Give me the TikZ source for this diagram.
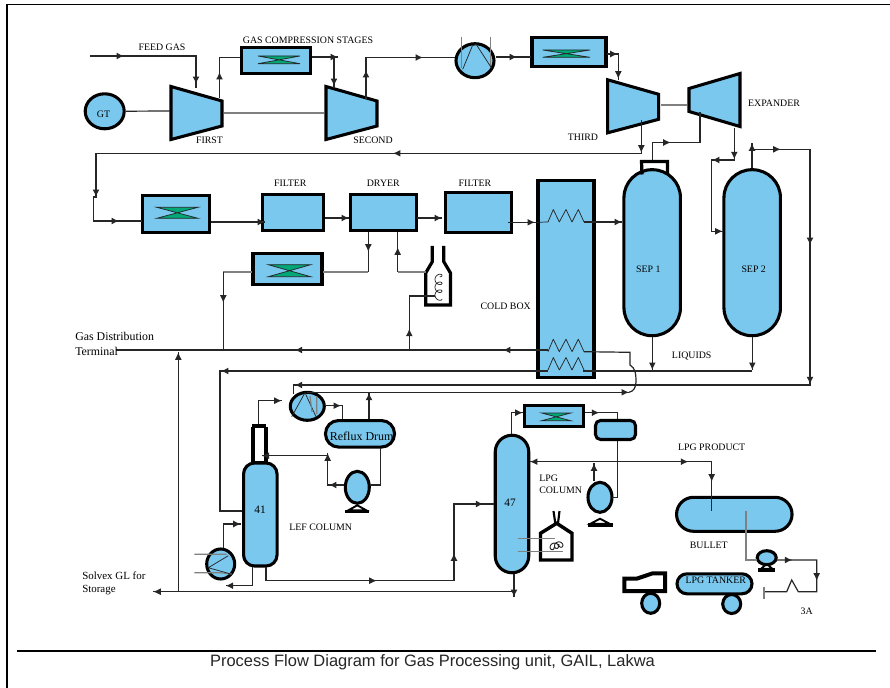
\documentclass[tikz,border=0pt]{standalone}
\usepackage{fontspec}
\setmainfont{Liberation Serif}
\newfontfamily\titlefont{Liberation Sans}
\usetikzlibrary{arrows.meta,decorations.markings,shapes.geometric}
\definecolor{vesselblue}{HTML}{7AC8EE}
\definecolor{coolgreen}{HTML}{00A878}
\tikzset{
	eq/.style={draw=black,line width=2.3pt,fill=vesselblue,inner sep=0pt},
	sz/.style 2 args={minimum width=#1*0.75pt,minimum height=#2*0.75pt},
	capsule/.style={rounded corners=#1*0.75pt},
	pipe/.style={draw=black!85,line width=0.9pt},
	pale/.style={draw=black!50,line width=0.9pt},
	fine/.style={draw=black!85,line width=0.55pt},
	heavy/.style={draw=black,line width=2.4pt},
	flowtip/.style={postaction={decorate,decoration={markings,mark=at position #1*0.75pt with {\arrow{Latex[length=5.6pt,width=5.2pt]}}}}},
	tag/.style={font=\fontsize{7.4}{9}\selectfont,text=black,inner sep=0pt},
	bigtag/.style={font=\fontsize{8.6}{10}\selectfont,text=black,inner sep=0pt,anchor=west},
}
\newcommand{\coolx}[4]{%
	\fill[coolgreen] (#1,#3)--(#2,#3)--(#1,#4)--(#2,#4)--cycle;
	\draw[fine] (#1,#3)--(#2,#3)--(#1,#4)--(#2,#4)--cycle;}
\newcommand{\coilx}[1]{%
	\draw[fine,line join=round] (548,#1)--(553.3,#1-12.5)--(559.3,#1)--(566,#1-12.5)--(572,#1)--(578.3,#1-12.5)--(584,#1);}
\begin{document}
\begin{tikzpicture}[x=0.75pt,y=-0.75pt,line join=miter]
	\useasboundingbox (0,0) rectangle (890,688);
	\draw[line width=0.8pt] (7,688)--(7,4.5)--(890,4.5);
	\draw[line width=0.8pt] (17,651)--(876,651);
	\node[inner sep=0pt,font=\titlefont\fontsize{12.35}{14}\selectfont,text=black!85] (title) at (432.5,662) {Process Flow Diagram for Gas Processing unit, GAIL, Lakwa};
	% equipment
	\foreach \n/\x/\y/\w/\h in {coola/276/60.5/69.5/26.5,coolb/569/52.3/74/29,coolc/176.2/213.7/66.5/36.8,coold/287.5/269.2/69/31,coole/554.2/415.8/59/20.5,filtera/293.3/212.5/61/36,dryer/383.3/212.6/65.5/36,filterb/478.2/212.3/66/39.5,coldbox/566/279.2/56/197}
		\node[eq,sz={\w}{\h}] (\n) at (\x,\y) {};
	\foreach \x/\y in {170/85,325/85,606.7/78.3}
		\draw[eq,shift={(\x,\y)}] (1,1.5)--(52,16)--(52,41)--(1,54.5)--cycle;
	\draw[eq] (689,88.5)--(740,73.5)--(740,126.5)--(689,111.5)--cycle;
	\foreach \n/\x/\y/\w/\h in {gt/104.7/111.3/39/35,conda/475/60.7/38/34,condb/307.3/406.3/34/28,reb/220.7/564/28/30,wheela/650.7/603.3/18/20,wheelb/731.7/604/18/19}
		\node[eq,ellipse,sz={\w}{\h}] (\n) at (\x,\y) {};
	\foreach \n/\x/\y/\w/\h/\r in {sepa/652.2/252.7/56.5/166/28,sepb/752.2/252.7/56.5/166/28,cola/260.3/514.5/33.5/103/11,colb/512/504/33.5/137.5/16.7,drum/360/433.8/69/26.5/13,bullet/734.3/514.3/115.5/34/17,tanker/714.5/583.8/75/20/10}
		\node[eq,capsule=\r,sz={\w}{\h}] (\n) at (\x,\y) {};
	\foreach \x/\y/\w in {357.3/513.3/12,600/526.7/12.5,766.7/571.7/8.5}{
		\fill[black] (\x-\w,\y)--(\x+\w,\y)--(\x+\w,\y-3.5)--(\x-\w,\y-3.5)--cycle;
		\draw[heavy,line width=1.4pt,fill=white] (\x,\y-8)--(\x-\w+3,\y-3)--(\x+\w-3,\y-3)--cycle;}
	\node[eq,ellipse,sz={24}{32}] (pumpa) at (357.3,487.3) {};
	\node[eq,ellipse,sz={24}{30}] (pumpb) at (600,497.3) {};
	\node[eq,ellipse,sz={19}{14}] (pumpc) at (766.7,557.7) {};
	\coolx{258}{300}{56}{63.7}
	\coolx{542.7}{590}{50}{57.3}
	\coolx{156.7}{198}{207.3}{218.3}
	\coolx{268.3}{310.7}{264.7}{276.7}
	\coolx{541.7}{570.7}{413}{420.7}
	% column stack, heater, furnace, tanker cab
	\fill[black] (251,426.7) rectangle (268.3,461.7);
	\fill[white] (255,426.7) rectangle (264.3,461);
	\fill[black] (252.3,424) rectangle (266,427.5);
	\draw[heavy,fill=white] (432.3,246)--(432.3,261.7)--(425.7,273)--(425.7,305)--(450.5,305)--(450.5,273)--(443.8,261.7)--(443.8,246);
	\draw[fine] plot[domain=0:1150,samples=70,smooth,variable=\t] ({438.5+3.5*cos(\t)},{299-\t/46+3*sin(\t)});
	\draw[heavy,line width=2.6pt,fill=white] (540.5,560)--(540.5,533.3)--(556.7,523.3)--(572,533.3)--(572,560)--cycle;
	\draw[heavy,line width=1.6pt] (553.5,511)--(555.3,523.3) (559.5,511)--(558,523.3);
	\draw[pale] (517.7,538.3)--(555,538.3) (517.7,551.7)--(563,551.7);
	\draw[fine,line width=0.7pt] plot[domain=0:900,samples=60,smooth,variable=\t] ({551+\t/82+3*cos(\t)},{547-\t/300+3*sin(\t)});
	\draw[heavy,line width=3pt] (624.3,578.7)--(636.7,578.7)--(652.7,573.3)--(665,573.3)--(665,591)--(624.3,591)--cycle;
	% ports
	\foreach \n/\x/\y in {feedin/90/56,firstin/196/88,firstout/219.5/98,coolaw/240/57.5,coolae/312/57,coolan/338/57,coolaj/334/57,secondin/334/88,secondout/366/99,condaw/455/57.5,condae/496/57,coolbw/530.7/57,coolbe/607/54,thirdin/618.3/80,thirdout/641.3/120,coolcw/141.7/221,coolce/211/222,filteraw/265/222,filterae/325/218,dryerw/349/218,dryere/417.3/218,filterbw/442/218,filterbe/508/222.3,coldw/536/222.3,coilae/584/222,sepaw/622/222,sepanoz/652.3/161,expin/700/112,expout/734.3/128,sepbw/722.7/231.3,sepbtop/752/168,sepbup/752/143.3,sepbj/752/149.3,condbin/293.3/394,sepabot/652.3/337,sepaliq/652.3/370,sepbbot/752.3/337,sepbliq/752.3/370,liqa/548/371,colaw/241.7/511,gasj/548/350,gasout/116/350,coilbe/584/351.7,retn/629/392.3,condbout/307/392.3,cooldw/251.7/272,gasa/223.3/350,dryers/368.3/232,coolde/323.3/272,heatw/425.7/272,dryerh/397.7/232,gasb/409.3/350,heatin/435/296,storej/178.3/592,gasc/178.3/352,colbj/514/591.7,storeout/153.3/591.7,colbbot/514/574,colbdown/514/597,colatop/258.3/424,condbw/281.7/400.7,condbe/326/405.7,drumin/342.7/419,drumtop/369/419,retup/369/392.7,drumbot/380.7/448,pumpain/370/485,pumpaout/344.3/485,refa/327.7/453.3,refb/327.7/455.7,refc/261.7/455.7,rebtop/223.3/548.3,colain/241/524,colab/252.7/567,rebin/225.7/585.7,colac/266/567,colbw/493.5/504,colbtop/511.7/434,coolew/523/412.7,coolee/585/412.7,pumpbin/612.3/497.3,pumpbtop/594/481,lpgj/594/461.7,colbe/530/461.7,lpgup/594/463.3,bullin/711.7/510.7,bullout/746/510.7,pumpcin/756.7/560,pumpcout/776.7/560,endl/764/591.7}
		\coordinate (\n) at (\x,\y);
	% lines
	\draw[pipe,flowtip=34,flowtip=134] (feedin)--(196,56)--(firstin);
	\draw[pipe,flowtip=26,flowtip=70.5] (firstout)--(219.5,57.5)--(coolaw);
	\draw[pipe,flowtip=26] (coolae)--(coolan);
	\draw[pipe,flowtip=29] (coolaj)--(secondin);
	\draw[pipe,flowtip=29,flowtip=98.5] (secondout)--(366,57.5)--(condaw);
	\draw[pipe,flowtip=21] (condae)--(coolbw);
	\draw[pipe,flowtip=10.7,flowtip=36] (coolbe)--(618.3,54)--(thirdin);
	\draw[pipe] (gt)--(170,111);
	\draw[pale,line width=1.1pt] (224,113)--(324,113);
	\draw[pale,line width=1.1pt] (661,105)--(687,105);
	\draw[pipe,flowtip=32.7,flowtip=281.6,flowtip=622.3,flowtip=674.3] (thirdout)--(641.3,153.3)--(96,153.3)--(96,197)--(93.5,197)--(93.5,221)--(coolcw);
	\draw[pipe,flowtip=54] (coolce)--(filteraw);
	\draw[pipe,flowtip=24] (filterae)--(dryerw);
	\draw[pipe,flowtip=24.7] (dryere)--(filterbw);
	\draw[pipe,flowtip=27] (filterbe)--(coldw);
	\coilx{222}
	\draw[fine] (coldw)--(548,222);
	\draw[pipe,flowtip=38] (coilae)--(sepaw);
	\draw[pipe,flowtip=36.9] (sepanoz)--(652.3,142.5)--(700,142.5)--(expin);
	\draw[pipe,flowtip=31.3,flowtip=54.3,flowtip=137.7] (expout)--(734.3,160)--(711.3,160)--(711.3,231.3)--(sepbw);
	\draw[pipe,flowtip=24.7] (sepbtop)--(sepbup);
	\draw[pipe,flowtip=28.7,flowtip=153.7,flowtip=293,flowtip=809] (sepbj)--(810,149.3)--(810,385)--(293.3,385)--(condbin);
	\draw[pipe,flowtip=33] (sepabot)--(sepaliq);
	\draw[pipe,flowtip=33] (sepbbot)--(sepbliq);
	\draw[pipe] (752.3,371)--(584,371)--(584,370);
	\coilx{370}
	\draw[pipe,flowtip=327,flowtip=490] (liqa)--(220,371)--(220,511)--(colaw);
	\coilx{351.7}
	\draw[pipe,flowtip=45,flowtip=253.3,flowtip=432.3] (gasj)--(gasout);
	\draw[pipe] (coilbe)--(630,352.3)--(630,365) .. controls (635,368) and (636,373) .. (636,380) .. controls (636,388) and (634,391) .. (retn);
	\draw[pipe,flowtip=322] (condbout)--(retn);
	\draw[pale] (cooldw)--(223.3,272);
	\draw[pipe,flowtip=30.7] (223.3,272)--(gasa);
	\draw[pale] (coolde)--(368.3,272);
	\draw[pipe,flowtip=19.7] (dryers)--(368.3,272);
	\draw[pale] (heatw)--(397.7,272);
	\draw[pipe,flowtip=24.7] (397.7,272)--(dryerh);
	\draw[pipe,flowtip=21.3] (gasb)--(409.3,296)--(heatin);
	\draw[pipe,flowtip=239.7] (storej)--(gasc);
	\draw[pipe,flowtip=360.7] (colbj)--(storeout);
	\draw[pipe,flowtip=23] (colbbot)--(colbdown);
	\draw[pipe,flowtip=46.7] (colatop)--(258.3,400.7)--(condbw);
	\draw[pipe,flowtip=15] (condbe)--(342.7,405.7)--(drumin);
	\draw[pipe,flowtip=26.3] (drumtop)--(retup);
	\draw[pipe] (drumbot)--(380.7,485)--(pumpain);
	\draw[pipe,flowtip=15.3,flowtip=48.3] (pumpaout)--(327.7,485)--(refa);
	\draw[pipe,flowtip=66] (refb)--(refc);
	\draw[pipe,flowtip=41.7] (rebtop)--(223.3,524)--(colain);
	\draw[pipe,flowtip=45.7] (colab)--(252.7,585.7)--(rebin);
	\draw[pipe,flowtip=124.4,flowtip=229.1,flowtip=307.7] (colac)--(266,580.7)--(454,580.7)--(454,504)--(colbw);
	\draw[pipe,flowtip=32.3] (colbtop)--(511.7,412.7)--(coolew);
	\draw[pipe,flowtip=14.3] (coolee)--(617.3,412.7)--(617.3,497.3)--(pumpbin);
	\draw[pipe,flowtip=17.7] (pumpbtop)--(lpgup);
	\draw[pipe,flowtip=64] (lpgj)--(colbe);
	\draw[pipe,flowtip=94.3,flowtip=137.7] (lpgj)--(711.7,461.7)--(bullin);
	\draw[pale] (bullout)--(746,560)--(pumpcin);
	\draw[pipe,flowtip=15.6,flowtip=60.7] (pumpcout)--(816.7,560)--(816.7,591.7)--(798.3,591.7)--(791.7,580)--(786.7,591.7)--(endl);
	\draw[pale] (764,586.7)--(764,599.3);
	% equipment drawn over the lines
	\node[eq,capsule=5,sz={40}{19}] (accum) at (615.5,430) {};
	\draw[heavy] (642,174.5)--(641.5,161.5)--(667.5,161.5)--(667.5,174.5);
	% inside of the exchangers
	\draw[pale] (461.7,36.7)--(461.7,68.3) (490.7,36.7)--(490.7,66.7);
	\draw[fine] (462.7,69.3)--(472.3,46)--(476,44)--(491.7,68.3);
	\draw[fine] (291.7,416.7)--(305,392.7)--(316,416.7);
	\draw[pale] (316.7,396)--(316.7,414) (310,396)--(312,412);
	\draw[pale] (194.3,554.3)--(226.7,554.3) (194.3,572.7)--(220,572.7)--(231.7,574);
	\draw[fine] (228.3,555.7)--(208.3,567.7)--(230.7,574);
	% labels
	\foreach \n/\x/\y/\t in {lfeed/162/47/FEED GAS,lstages/308/40/GAS COMPRESSION STAGES,lfirst/209.5/140/FIRST,lsecond/373/140/SECOND,lthird/583/137/THIRD,lexp/774/103/EXPANDER,lfilta/290.3/183.3/FILTER,ldryer/383.3/183.3/DRYER,lfiltb/475/183.3/FILTER,lcold/505.7/306/COLD BOX,lsepa/648.3/269/SEP 1,lsepb/753.7/269/SEP 2,lliq/691.7/355.7/LIQUIDS,llef/320.7/527.7/LEF COLUMN,lprod/711.7/447.3/LPG PRODUCT,lbull/708.7/545.7/BULLET,ltank/715.7/580.3/LPG TANKER,lthree/806.7/611/3A,lgt/103.5/114.5/GT}
		\node[tag] (\n) at (\x,\y) {\t};
	\node[tag,anchor=west] (llpg) at (539,478.3) {LPG};
	\node[tag,anchor=west] (lcol) at (539,490.7) {COLUMN};
	\node[bigtag,font=\fontsize{8.9}{10}\selectfont] (lgasa) at (75,336.7) {Gas Distribution};
	\node[bigtag,font=\fontsize{8.9}{10}\selectfont] (lgasb) at (75,351.7) {Terminal};
	\node[bigtag,font=\fontsize{8.2}{10}\selectfont] (lsolv) at (82,576) {Solvex GL for};
	\node[bigtag,font=\fontsize{8.2}{10}\selectfont] (lstor) at (82,590) {Storage};
	\node[inner sep=0pt,font=\fontsize{9}{10}\selectfont,text=black] (lreflux) at (361.7,436) {Reflux Drum};
	\node[inner sep=0pt,font=\fontsize{8.5}{10}\selectfont,text=black] (lforty) at (260,509.3) {41};
	\node[inner sep=0pt,font=\fontsize{8.5}{10}\selectfont,text=black] (lfortys) at (510,502.3) {47};
\end{tikzpicture}
\end{document}
